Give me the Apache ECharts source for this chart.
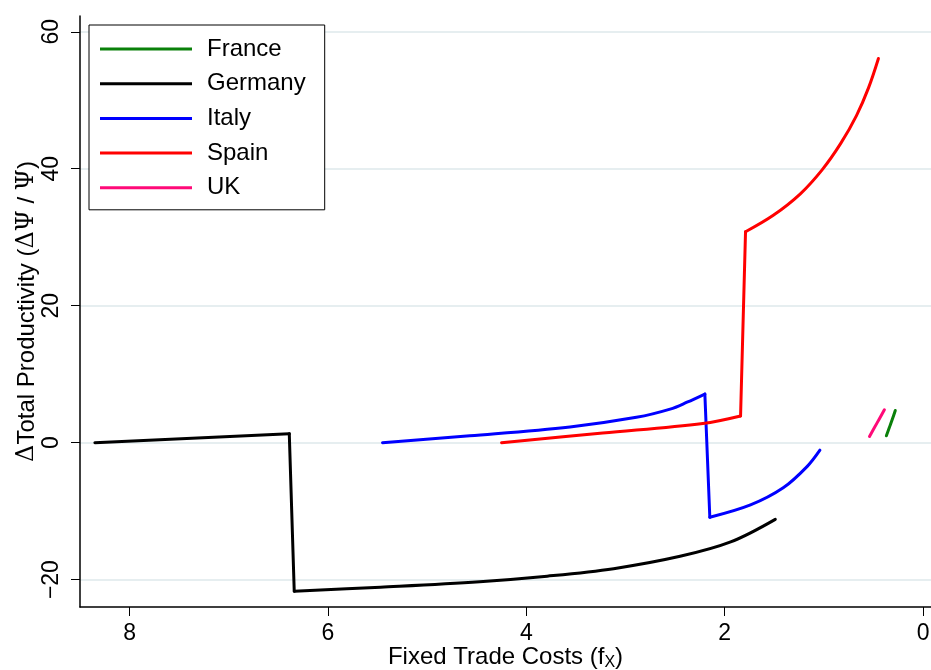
<!DOCTYPE html>
<html>
<head>
<meta charset="utf-8">
<script src="https://cdn.jsdelivr.net/npm/echarts@6/dist/echarts.min.js"></script>
<style>
  html, body { margin: 0; padding: 0; background: #fff; }
  #chart { width: 931px; height: 670px; }
</style>
</head>
<body>
<div id="chart"></div>
<script>
// series values (x = fixed trade cost, y = change in productivity)
const franceX = [0.37, 0.34, 0.31, 0.28]
const franceY = [1.0, 2.2, 3.4, 4.7]

const germanyX = [8.35, 6.39, 6.34, 5.47, 4.47, 3.79, 3.12, 2.45, 1.94, 1.49]
const germanyY = [0, 1.3, -21.7, -21.1, -20.3, -19.5, -18.4, -16.6, -14.5, -11.2]

const italyX = [5.45, 4.57, 3.56, 2.89, 2.55, 2.38, 2.20, 2.15, 1.74, 1.41, 1.17, 1.04]
const italyY = [0, 1.0, 2.3, 3.7, 4.9, 5.9, 7.1, -10.9, -9.1, -6.6, -3.5, -1.1]

const spainX = [4.25, 3.23, 2.22, 1.84, 1.79, 1.51, 1.24, 1.02, 0.83, 0.67, 0.55, 0.45]
const spainY = [0, 1.4, 2.8, 3.9, 30.8, 33.2, 36.3, 39.8, 43.7, 47.8, 51.8, 56.1]

const ukX = [0.54, 0.49, 0.44, 0.39]
const ukY = [0.9, 2.2, 3.5, 4.8]

// index where each series jumps (segment i -> i+1 drawn straight)
const germanyJumps = [1]
const italyJumps = [6]
const spainJumps = [3]

const xTicks = [0, 2, 4, 6, 8]
const yTicks = [-20, 0, 20, 40, 60]

const chart = echarts.init(document.getElementById('chart'))

// split one country into smooth pieces and straight jump pieces, same legend name
const build = (name, xs, ys, color, jumps) => {
  const pts = xs.map((x, i) => [x, ys[i]])
  const out = []
  let start = 0
  const piece = (a, b, smooth) => ({
    name: name,
    type: 'line',
    data: pts.slice(a, b + 1),
    symbol: 'none',
    smooth: smooth ? 0.35 : false,
    lineStyle: { color: color, width: 3, cap: 'round', join: 'round' },
    itemStyle: { color: color },
    z: 3
  })
  jumps.forEach(j => {
    if (j > start) out.push(piece(start, j, true))
    out.push(piece(j, j + 1, false))
    start = j + 1
  })
  if (start < pts.length - 1) out.push(piece(start, pts.length - 1, true))
  return out
}

const option = {
  backgroundColor: '#fff',
  animation: false,
  textStyle: { fontFamily: 'Liberation Sans, Arial, sans-serif' },
  grid: { left: 80, right: 0, top: 16, bottom: 63, outerBoundsMode: 'none', containLabel: false },
  legend: {
    left: 89,
    top: 25,
    orient: 'vertical',
    backgroundColor: '#fff',
    borderColor: '#000',
    borderWidth: 1,
    padding: [12, 19, 10, 11],
    icon: 'rect',
    itemWidth: 92,
    itemHeight: 3,
    itemGap: 10.7,
    textStyle: { fontSize: 24, color: '#000', padding: [0, 0, 0, 10] },
    data: ['France', 'Germany', 'Italy', 'Spain', 'UK']
  },
  xAxis: {
    type: 'value',
    inverse: true,
    min: -0.08,
    max: 8.5,
    name: 'Fixed Trade Costs (f{sub|X})',
    nameLocation: 'middle',
    nameGap: 36,
    nameMoveOverlap: false,
    nameTextStyle: {
      fontSize: 24,
      color: '#000',
      rich: { sub: { fontSize: 16, color: '#000', padding: [12, 0, 0, 0] } }
    },
    axisLine: { show: true, onZero: false, lineStyle: { color: '#000', width: 1.5 } },
    axisTick: { show: true, length: 9, customValues: xTicks, lineStyle: { color: '#000' } },
    axisLabel: { customValues: xTicks, fontSize: 23, color: '#000', margin: 15 },
    splitLine: { show: false }
  },
  yAxis: {
    type: 'value',
    min: -24,
    max: 62.3,
    name: '{g|Δ}Total Productivity ({g|ΔΨ} / {g|Ψ})',
    nameLocation: 'middle',
    nameGap: 41,
    nameRotate: 90,
    nameMoveOverlap: false,
    nameTextStyle: {
      fontSize: 24,
      color: '#000',
      rich: { g: { fontSize: 24, color: '#000', fontFamily: 'DejaVu Serif, serif' } }
    },
    axisLine: { show: true, onZero: false, lineStyle: { color: '#000', width: 1.5 } },
    axisTick: { show: true, length: 9, customValues: yTicks, lineStyle: { color: '#000' } },
    axisLabel: {
      customValues: yTicks,
      rotate: 90,
      fontSize: 23,
      color: '#000',
      margin: 17,
      formatter: v => String(v).replace('-', '\u2212')
    },
    splitLine: { show: true, lineStyle: { color: '#e6eef0', width: 2 } }
  },
  series: [
    ...build('France', franceX, franceY, '#0a800a', []),
    ...build('Germany', germanyX, germanyY, '#000000', germanyJumps),
    ...build('Italy', italyX, italyY, '#0000ff', italyJumps),
    ...build('Spain', spainX, spainY, '#ff0000', spainJumps),
    ...build('UK', ukX, ukY, '#ff0a78', [])
  ]
}

chart.setOption(option)
</script>
</body>
</html>
